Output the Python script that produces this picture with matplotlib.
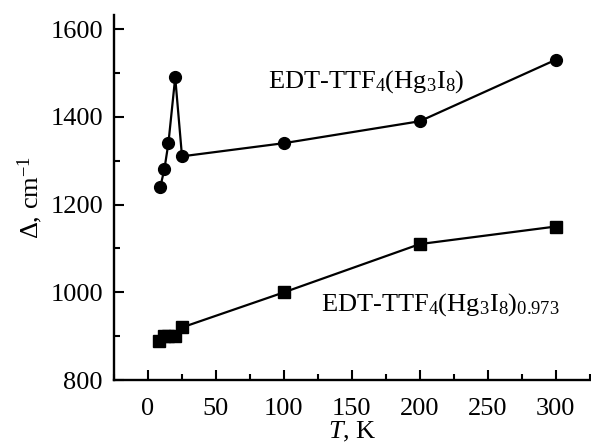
import matplotlib
matplotlib.use('Agg')
import matplotlib.pyplot as plt
from matplotlib.ticker import MultipleLocator

plt.rcParams['font.family'] = ['Liberation Serif', 'DejaVu Serif']
plt.rcParams['mathtext.fontset'] = 'custom'
plt.rcParams['mathtext.rm'] = 'Liberation Serif'
plt.rcParams['mathtext.it'] = 'Liberation Serif:italic'

# data
T_circ = [9, 12, 15, 20, 25, 100, 200, 300]
d_circ = [1240, 1280, 1340, 1490, 1310, 1340, 1390, 1530]
T_sq = [8, 12, 15, 20, 25, 100, 200, 300]
d_sq = [890, 900, 900, 900, 920, 1000, 1110, 1150]

label_circ = r'EDT-TTF$_4$(Hg$_3$I$_8$)'
label_sq = r'EDT-TTF$_4$(Hg$_3$I$_8$)$_{0.973}$'

fs = 19

fig = plt.figure(figsize=(5.91, 4.43), dpi=100)
ax = fig.add_axes([0.193, 0.142, 0.807, 0.824])

ax.plot(T_circ, d_circ, color='black', marker='o', markersize=8.5, linewidth=1.6)
ax.plot(T_sq, d_sq, color='black', marker='s', markersize=8, linewidth=1.6)

ax.text(88, 1466, label_circ, fontsize=fs)
ax.text(127, 958, label_sq, fontsize=fs)

ax.set_xlim(-25, 326)
ax.set_ylim(800, 1632)
ax.xaxis.set_major_locator(MultipleLocator(50))
ax.xaxis.set_minor_locator(MultipleLocator(25))
ax.yaxis.set_major_locator(MultipleLocator(200))
ax.yaxis.set_minor_locator(MultipleLocator(100))

for s in ['top', 'right']:
    ax.spines[s].set_visible(False)
for s in ['left', 'bottom']:
    ax.spines[s].set_linewidth(1.7)

ax.tick_params(which='both', direction='in', width=1.5, labelsize=fs)
ax.tick_params(which='major', length=7)
ax.tick_params(axis='x', which='major', pad=13)
ax.tick_params(axis='y', which='major', pad=8)
ax.tick_params(which='minor', length=4)

ax.set_xlabel(r'$T$, K', fontsize=fs, labelpad=0)
ax.set_ylabel(r'$\Delta$, cm$^{-1}$', fontsize=fs, labelpad=4)

fig.savefig('out.png', dpi=100)
